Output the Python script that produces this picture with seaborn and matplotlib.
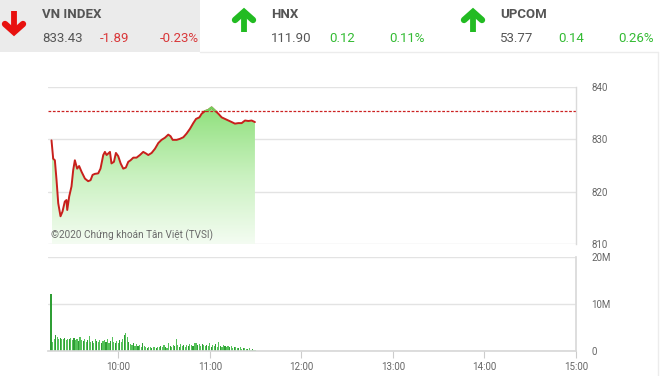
import numpy as np
import matplotlib
matplotlib.use("Agg")
import matplotlib.pyplot as plt
import seaborn as sns
from matplotlib.colors import LinearSegmentedColormap
from matplotlib.patches import Rectangle

sns.set_theme(style="white")
plt.rcParams['font.family'] = ['Roboto', 'DejaVu Sans']

# ---------------- data ----------------
# price: minutes after 09:00, index value
price_min = [16.3, 17.4, 18.5, 19.6, 20.7, 22.2, 23.5, 25.0, 26.1, 26.6, 27.9, 29.4, 30.5, 31.6,
             33.1, 34.4, 36.0, 38.2, 40.3, 41.9, 43.2, 44.7, 46.9, 48.4, 50.2, 51.3, 52.4, 53.5,
             54.6, 55.6, 57.2, 58.5, 60.0, 61.6, 63.3, 65.0, 66.6, 68.1, 69.9, 72.0, 74.2, 76.4,
             78.2, 79.7, 81.9, 84.1, 86.3, 88.4, 90.6, 92.8, 94.3, 95.7, 98.3, 100.5, 102.7,
             104.8, 107.0, 109.2, 111.0, 113.2, 114.7, 116.9, 119.0, 121.2, 123.4, 125.6, 127.8,
             130.0, 132.2, 134.4, 136.5, 138.7, 140.9, 143.1, 145.3, 147.4, 149.6]
price_val = [829.8, 826.3, 826.0, 822.2, 817.8, 815.3, 816.2, 818.1, 818.4, 816.5, 819.1, 821.0,
             824.1, 826.0, 824.4, 824.9, 823.8, 822.5, 822.0, 822.2, 823.2, 823.4, 823.5, 824.4,
             827.0, 827.6, 827.0, 827.3, 827.6, 825.4, 825.7, 827.4, 826.8, 825.4, 824.4, 824.6,
             825.7, 826.0, 826.5, 826.5, 827.0, 827.6, 827.3, 827.0, 827.4, 828.2, 829.3, 829.9,
             830.3, 830.9, 830.6, 829.9, 829.9, 830.1, 830.4, 831.1, 832.0, 833.1, 833.9, 834.2,
             834.9, 835.4, 835.6, 836.1, 835.5, 834.9, 834.2, 833.9, 833.6, 833.3, 833.0, 833.1,
             833.1, 833.6, 833.5, 833.6, 833.3]
ref_price = 835.32

# volume (millions) per minute from 09:16
vol_start = 16
volume = [12.1,
          2.0, 2.6, 3.4, 2.9, 2.5, 2.8, 2.6, 2.5, 2.7, 2.4,
          2.5, 2.6, 2.8, 2.4, 2.7, 2.3, 2.6, 2.2, 2.9, 2.4,
          2.1, 2.5, 1.9, 2.4, 3.2, 2.0, 2.2, 1.8, 2.5, 2.1,
          1.9, 2.3, 1.7, 2.2, 2.4, 2.0, 2.6, 1.8, 2.2, 2.9,
          2.0, 1.7, 2.1, 1.6, 2.3, 2.0, 2.6, 3.3, 3.8, 3.0,
          1.9, 1.5, 1.3, 1.6, 1.1, 1.4, 1.0, 1.2, 0.9, 1.7,
          1.0, 0.8, 0.7, 0.8, 0.9, 0.7, 0.8, 0.9, 0.6, 0.8,
          0.9, 1.0, 0.8, 1.2, 0.9, 0.7, 1.8, 1.1, 0.9, 1.3,
          1.0, 2.6, 1.2, 0.9, 1.5, 1.0, 1.3, 0.8, 1.2, 1.1,
          1.4, 1.2, 1.0, 1.6, 1.8, 1.3, 1.4, 1.1, 1.5, 1.2,
          1.0, 1.3, 1.1, 1.6, 0.9, 1.2, 1.0, 1.4, 0.8, 1.9,
          1.1, 0.9, 1.2, 1.0, 0.8, 1.1, 0.9, 1.0, 0.7, 0.8,
          0.9, 0.7, 0.6, 0.8, 0.5, 0.6, 0.7, 0.5, 0.4, 0.6,
          0.3, 0.4, 0.2, 0.2]
vol_min = [vol_start + i for i in range(len(volume))]

price_ticks = [810, 820, 830, 840]
vol_ticks = [0, 10, 20]
vol_tick_labels = ["0", "10M", "20M"]
time_ticks = [60, 120, 180, 240, 300, 360]
time_labels = ["10:00", "11:00", "12:00", "13:00", "14:00", "15:00"]

header_names = ["VN INDEX", "HNX", "UPCOM"]
header_values = ["833.43", "111.90", "53.77"]
header_changes = ["-1.89", "0.12", "0.14"]
header_pcts = ["-0.23%", "0.11%", "0.26%"]
header_up = [False, True, True]

# ---------------- figure ----------------
W, H = 660, 376
fig = plt.figure(figsize=(W / 100, H / 100), dpi=100)
fig.patch.set_facecolor("white")

def fx(px):
    return px / W

def fy(py):
    return 1 - py / H

xlim = (14, 360)
grid_c = "#e3e3e3"
tick_c = "#666666"

# upper axes
ax = fig.add_axes([fx(48), fy(244), fx(576) - fx(48), fy(87) - fy(244)])
ax.set_facecolor("white")

fill = ax.fill_between(price_min, price_val, 810, color="none", lw=0)
cmap = LinearSegmentedColormap.from_list("g", ["#f4fcf2", "#c9f1bf", "#8fe07c"])
grad = np.linspace(0, 1, 256).reshape(-1, 1)
im = ax.imshow(grad, extent=[price_min[0], price_min[-1], 810, 836.3], aspect="auto",
               origin="lower", cmap=cmap, zorder=1)
im.set_clip_path(fill.get_paths()[0], transform=ax.transData)

sns.lineplot(x=price_min, y=price_val, ax=ax, color="#c8201c", lw=1.4, zorder=3)
hi = ax.plot(price_min, price_val, color="#6fd45c", lw=1.4, zorder=4)[0]
clip_r = Rectangle((0, ref_price), 400, 20, transform=ax.transData)
hi.set_clip_path(clip_r)

ax.axhline(ref_price, color="#cc2222", lw=0.9, ls=(0, (2.2, 1.3)), zorder=2)

ax.set_xlim(*xlim)
ax.set_ylim(810, 840)
for v in price_ticks:
    ax.axhline(v, color=grid_c, lw=1, zorder=0)
ax.set_yticks(price_ticks)
ax.set_yticklabels([str(v) for v in price_ticks])
ax.yaxis.tick_right()
ax.tick_params(axis="y", length=0, pad=11, labelsize=7, labelcolor=tick_c)
ax.set_xticks([])
for s in ["top", "left", "bottom"]:
    ax.spines[s].set_visible(False)
ax.spines["right"].set_color("#dadada")
ax.spines["right"].set_linewidth(1)
ax.text(16, 811.6, "©2020 Chứng khoán Tân Việt (TVSI)", fontsize=7.2,
        color="#6a6a6a", ha="left", va="center", zorder=5)

# lower axes
ax2 = fig.add_axes([fx(48), fy(351), fx(576) - fx(48), fy(257) - fy(351)])
ax2.set_facecolor("white")
for v in vol_ticks:
    ax2.axhline(v, color=grid_c if v else "#d8d8d8", lw=1, zorder=0)
colors = ["#2f9e35" if i % 3 == 0 else "#55c25a" for i in range(len(volume))]
ax2.bar(vol_min, volume, width=0.75, color=colors, lw=0, zorder=2)
ax2.set_xlim(*xlim)
ax2.set_ylim(0, 20)
ax2.set_yticks(vol_ticks)
ax2.set_yticklabels(vol_tick_labels)
ax2.yaxis.tick_right()
ax2.tick_params(axis="y", length=0, pad=11, labelsize=7, labelcolor=tick_c)
ax2.set_xticks(time_ticks)
ax2.set_xticklabels(time_labels)
ax2.tick_params(axis="x", length=5, width=0.8, color="#cccccc", pad=3, labelsize=7,
                labelcolor=tick_c, bottom=True)
for s in ["top", "left"]:
    ax2.spines[s].set_visible(False)
ax2.spines["right"].set_color("#dadada")
ax2.spines["bottom"].set_color("#d8d8d8")

# header overlay
hdr = fig.add_axes([0, 0, 1, 1], zorder=-1)
hdr.set_xlim(0, W)
hdr.set_ylim(H, 0)
hdr.axis("off")
hdr.add_patch(Rectangle((0, 0), 200, 52, color="#ebebeb", lw=0))
hdr.plot([200, 658], [52, 52], color="#ececec", lw=1)
hdr.plot([658, 658], [52, H], color="#ececec", lw=1)

name_font = ['Roboto', 'DejaVu Sans']
xs = [42, 271, 500]
arrow_x = [14, 244, 473]
for i in range(3):
    up = header_up[i]
    c_arrow = "#22bb22" if up else "#e8110f"
    c_txt = "#33bb33" if up else "#d9383a"
    ax_c = arrow_x[i]
    if up:
        tip, tail = 11, 32
        hdr.plot([ax_c, ax_c], [tip + 2, tail], color=c_arrow, lw=4.2, solid_capstyle="butt")
        hdr.plot([ax_c - 9, ax_c, ax_c + 9], [tip + 9, tip + 1, tip + 9], color=c_arrow,
                 lw=4.6, solid_capstyle="round", solid_joinstyle="miter")
    else:
        tip, tail = 33, 11
        hdr.plot([ax_c, ax_c], [tail, tip - 2], color=c_arrow, lw=4.2, solid_capstyle="butt")
        hdr.plot([ax_c - 9, ax_c, ax_c + 9], [tip - 9, tip - 1, tip - 9], color=c_arrow,
                 lw=4.6, solid_capstyle="round", solid_joinstyle="miter")
    x0 = xs[i]
    hdr.text(x0, 15, header_names[i], fontsize=9.5, fontweight="bold", color="#555555",
             family=name_font, ha="left", va="center")
    hdr.text(x0, 38, header_values[i], fontsize=9.5, color="#555555", family=name_font,
             ha="left", va="center")
    hdr.text(x0 + 58, 38, header_changes[i], fontsize=9.5, color=c_txt, family=name_font,
             ha="left", va="center")
    hdr.text(x0 + 118, 38, header_pcts[i], fontsize=9.5, color=c_txt, family=name_font,
             ha="left", va="center")

fig.savefig("out.png", dpi=100, facecolor="white")
